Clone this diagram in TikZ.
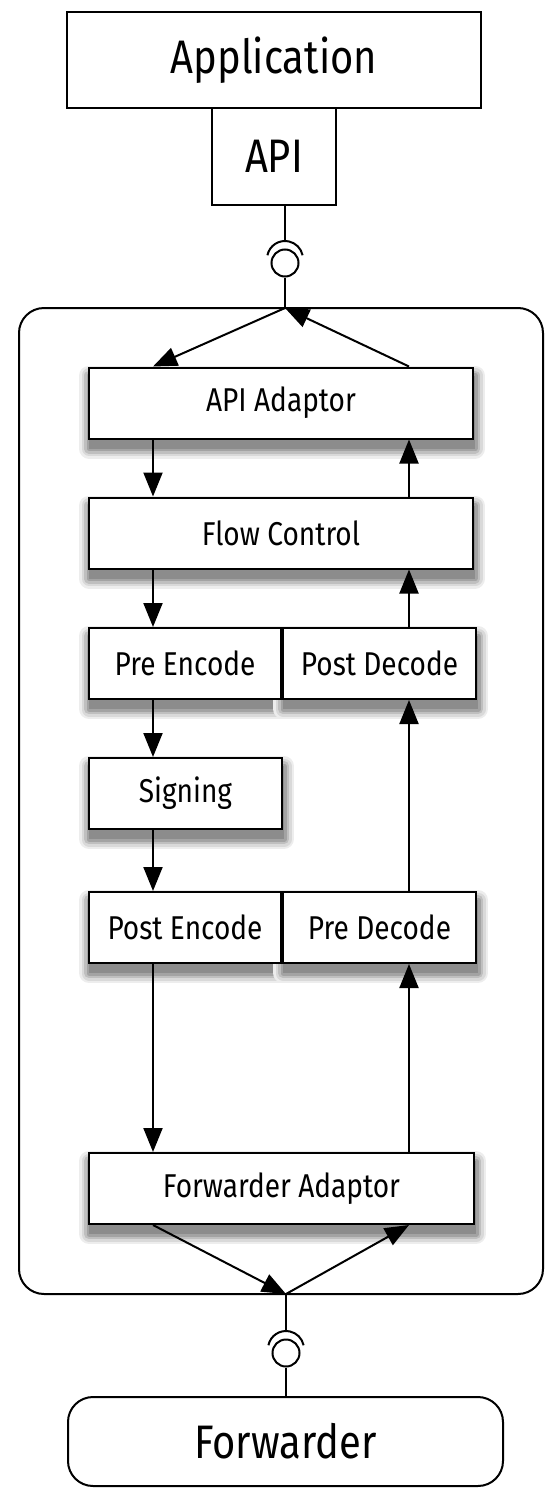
\documentclass[tikz,border=0pt]{standalone}
\usepackage{fontspec}
\setmainfont[FakeStretch=0.85]{Fira Sans}
\usepackage{tikz}
\usetikzlibrary{arrows.meta, positioning}

\pgfdeclarelayer{background}
\pgfsetlayers{background,main}

\begin{document}
\begin{tikzpicture}[
    x=1pt, y=1pt,
    outer/.style={rectangle, draw, line width=2pt, font=\fontsize{47}{50}\selectfont},
    stage/.style={rectangle, draw, line width=2pt, fill=white, minimum height=71pt, font=\fontsize{33}{38}\selectfont},
    ball/.style={circle, draw, line width=2pt, minimum size=27pt, inner sep=0pt},
    wire/.style={line width=2pt},
    flow/.style={line width=2pt, -{Triangle[length=24pt, width=19pt]}},
]
\useasboundingbox (0,0) rectangle (545,-1488);
% component boundary
\node[draw, line width=2pt, rounded corners=25pt, minimum width=524pt, minimum height=986pt] (stack) at (281,-801) {};

\node[outer, minimum width=414pt, minimum height=96pt] (app) at (274,-60) {Application};
\node[outer, minimum width=124pt, minimum height=97pt] (api) at (274,-156.5) {API};

\node[stage, minimum width=384pt] (adapt)    at (281,-403)     {API Adaptor};
\node[stage, minimum width=384pt] (flowctl)  at (281,-533)     {Flow Control};
\node[stage, minimum width=192pt] (preenc)   at (185,-663.5)   {Pre Encode};
\node[stage, minimum width=193pt] (postdec)  at (379.5,-663.5) {Post Decode};
\node[stage, minimum width=193pt] (signing)  at (185.5,-793.5) {Signing};
\node[stage, minimum width=192pt] (postenc)  at (185,-927.5)   {Post Encode};
\node[stage, minimum width=193pt] (predec)   at (379.5,-927.5) {Pre Decode};
\node[stage, minimum width=385pt] (fwdadapt) at (281.5,-1188.5) {Forwarder Adaptor};

\node[outer, rounded corners=25pt, minimum width=435pt, minimum height=89pt] (fwd) at (285.5,-1441.5) {Forwarder};

% soft shadows behind the stages
\begin{pgfonlayer}{background}
\foreach \nm in {adapt, flowctl, preenc, postdec, signing, postenc, predec, fwdadapt} {
    \path (\nm.south west) ++(1pt,-9pt) coordinate (sw);
    \path (\nm.north east) ++(1pt,-9pt) coordinate (ne);
    \draw[black!7, line width=20pt, line join=round] (sw) rectangle (ne);
    \draw[black!15, line width=15pt, line join=round] (sw) rectangle (ne);
    \draw[black!25, line width=10pt, line join=round] (sw) rectangle (ne);
    \draw[black!36, line width=5pt, line join=round] (sw) rectangle (ne);
    \fill[black!45] (sw) rectangle (ne);
}
\end{pgfonlayer}

\coordinate (lx) at (153,0);
\coordinate (rx) at (409,0);
\coordinate (topj) at (285,-308);
\coordinate (botj) at (286,-1294);

% sockets
\node[ball] (topball) at (285,-263) {};
\coordinate (topcup) at (285,-241);
\draw[wire] (api.south -| topball) -- (topcup);
\draw[wire] (topball.center) ++(0,4) ++(168:18pt) arc[start angle=168, end angle=12, radius=18pt];
\draw[wire] (topball) -- (topj);

\node[ball] (botball) at (286,-1353) {};
\coordinate (botcup) at (286,-1331);
\draw[wire] (botj) -- (botcup);
\draw[wire] (botball.center) ++(0,4) ++(168:18pt) arc[start angle=168, end angle=12, radius=18pt];
\draw[wire] (botball) -- (fwd.north -| botball);

% send path
\draw[flow] (topj) -- (adapt.north -| lx);
\draw[flow] (adapt.south -| lx) -- (flowctl.north -| lx);
\draw[flow] (flowctl.south -| lx) -- (preenc.north -| lx);
\draw[flow] (preenc.south -| lx) -- (signing.north -| lx);
\draw[flow] (signing.south -| lx) -- (postenc.north -| lx);
\draw[flow] (postenc.south -| lx) -- (fwdadapt.north -| lx);
\draw[flow] (fwdadapt.south -| lx) -- (botj);

% receive path
\draw[flow] (botj) -- (fwdadapt.south -| rx);
\draw[flow] (fwdadapt.north -| rx) -- (predec.south -| rx);
\draw[flow] (predec.north -| rx) -- (postdec.south -| rx);
\draw[flow] (postdec.north -| rx) -- (flowctl.south -| rx);
\draw[flow] (flowctl.north -| rx) -- (adapt.south -| rx);
\draw[flow] (adapt.north -| rx) -- (topj);
\end{tikzpicture}
\end{document}
